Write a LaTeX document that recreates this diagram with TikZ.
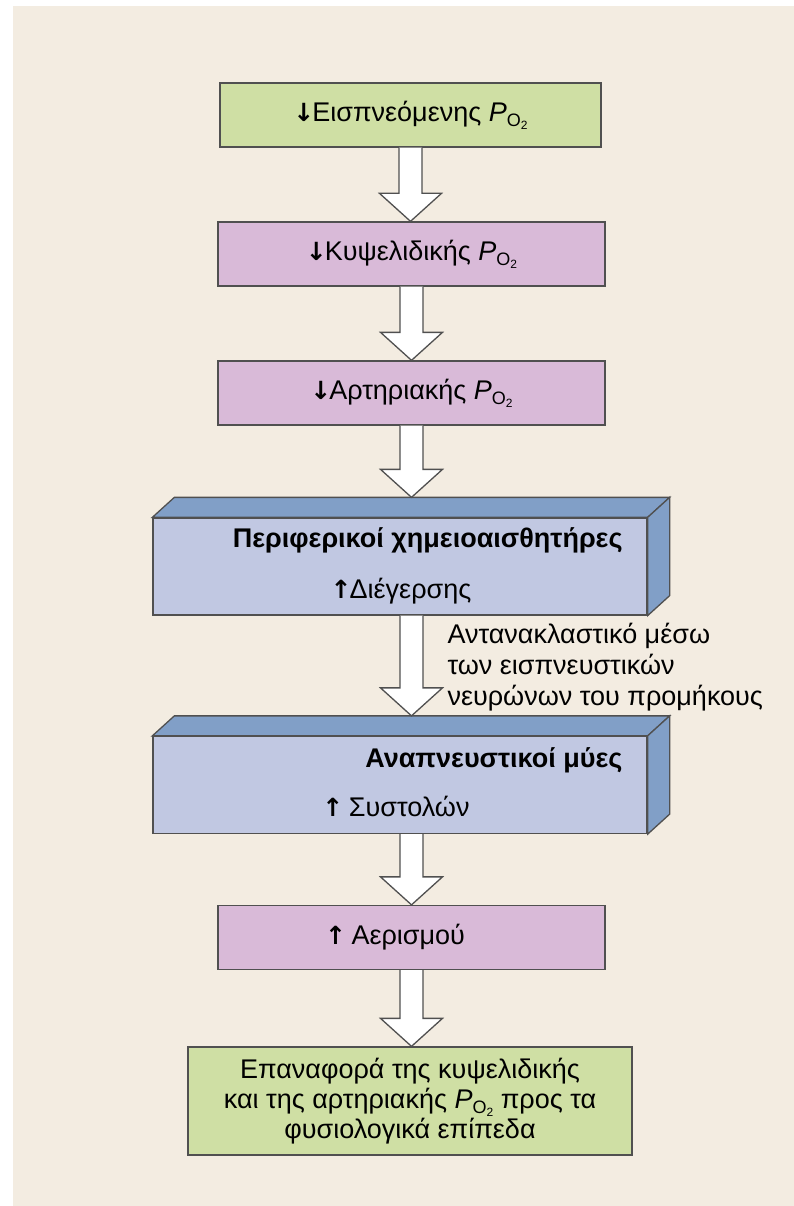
\documentclass[tikz,border=0pt]{standalone}
\usepackage{fontspec}
\setmainfont{Liberation Sans}
\newfontfamily\arrowfont{DejaVu Sans}
\usetikzlibrary{calc}
\definecolor{paper}{RGB}{243,236,225}
\definecolor{leafgreen}{RGB}{207,223,164}
\definecolor{mauve}{RGB}{217,186,216}
\definecolor{paleblue}{RGB}{193,200,226}
\definecolor{steelblue}{RGB}{129,159,199}
\definecolor{edge}{RGB}{80,80,80}
\newcommand{\poxy}{\textit{P}\raisebox{-0.35ex}{\fontsize{18}{18}\selectfont O\raisebox{-0.3ex}{\fontsize{12}{12}\selectfont 2}}}
\newcommand{\dn}{{\arrowfont\bfseries\fontsize{25}{25}\selectfont ↓}\kern-2pt}
\newcommand{\up}{{\arrowfont\bfseries\fontsize{25}{25}\selectfont ↑}\kern-2pt}
\newcommand{\flowarrow}[2]{%
  \filldraw[fill=white,draw=edge,line width=1.3pt] let \p1=(#1),\p2=(#2) in
    (\x1-11.5pt,\y1) -- (\x1-11.5pt,\y2+28pt) -- (\x1-31pt,\y2+28pt) -- (\x1,\y2)
    -- (\x1+31pt,\y2+28pt) -- (\x1+11.5pt,\y2+28pt) -- (\x1+11.5pt,\y1);}
\newcommand{\slabfaces}[1]{%
  \filldraw[fill=steelblue,draw=edge,line width=1.3pt] (#1.north west) -- ++(22,-20)
    -- ([shift={(22,-20)}]#1.north east) -- (#1.north east) -- cycle;
  \filldraw[fill=steelblue,draw=edge,line width=1.3pt] (#1.north east) -- ++(22,-20)
    -- ([shift={(22,-20)}]#1.south east) -- (#1.south east) -- cycle;}
\tikzset{
  flatbox/.style={draw=edge,line width=1.3pt,inner sep=0pt,minimum height=64pt,align=center},
  greenbox/.style={flatbox,fill=leafgreen},
  pinkbox/.style={flatbox,fill=mauve,minimum width=387pt},
  slabbox/.style={draw=edge,line width=1.3pt,fill=paleblue,minimum width=494pt,minimum height=97pt},
}
\begin{document}
\begin{tikzpicture}[x=1pt,y=-1pt,font=\fontsize{27}{30}\selectfont]
\useasboundingbox (0,0) rectangle (794,1206);
\fill[white] (0,0) rectangle (794,1206);
\fill[paper] (13,6) rectangle (794,1206);
% boxes
\node[greenbox,minimum width=381pt] (inspired) at (410.5,115) {\dn Εισπνεόμενης \poxy};
\node[pinkbox] (alveolar) at (411.5,254) {\dn Κυψελιδικής \poxy};
\node[pinkbox] (arterial) at (411.5,393) {\dn Αρτηριακής \poxy};
\node[slabbox] (chemo) at (400,566.5) {};
\slabfaces{chemo}
\node[slabbox] (muscles) at (400,785) {};
\slabfaces{muscles}
\node[pinkbox] (ventil) at (411.5,937.5) {};
\node[greenbox,minimum width=444pt,minimum height=108pt] (restore) at (410,1101)
  {Επαναφορά της κυψελιδικής\\και της αρτηριακής \poxy{} προς τα\\φυσιολογικά επίπεδα};
% texts
\node[anchor=east,font=\fontsize{27}{30}\selectfont\bfseries] (chemotitle) at (626,540) {Περιφερικοί χημειοαισθητήρες};
\node (chemoup) at (401,591) {\up Διέγερσης};
\node[anchor=east,font=\fontsize{27}{30}\selectfont\bfseries] (musctitle) at (626,760) {Αναπνευστικοί μύες};
\node (muscup) at (396,806) {\up\ Συστολών};
\node (ventup) at (395,937) {\up\ Αερισμού};
\node[anchor=west,align=left,font=\fontsize{27}{31}\selectfont] (reflex) at (444,667)
  {Αντανακλαστικό μέσω\\των εισπνευστικών\\νευρώνων του προμήκους};
% arrows
\flowarrow{inspired.south}{alveolar.north}
\flowarrow{alveolar.south}{arterial.north}
\flowarrow{arterial.south}{[yshift=20pt]chemo.north -| arterial.south}
\flowarrow{[xshift=11.5pt]chemo.south}{[yshift=20pt]muscles.north}
\flowarrow{[xshift=11.5pt]muscles.south}{ventil.north}
\flowarrow{ventil.south}{restore.north}
\end{tikzpicture}
\end{document}
